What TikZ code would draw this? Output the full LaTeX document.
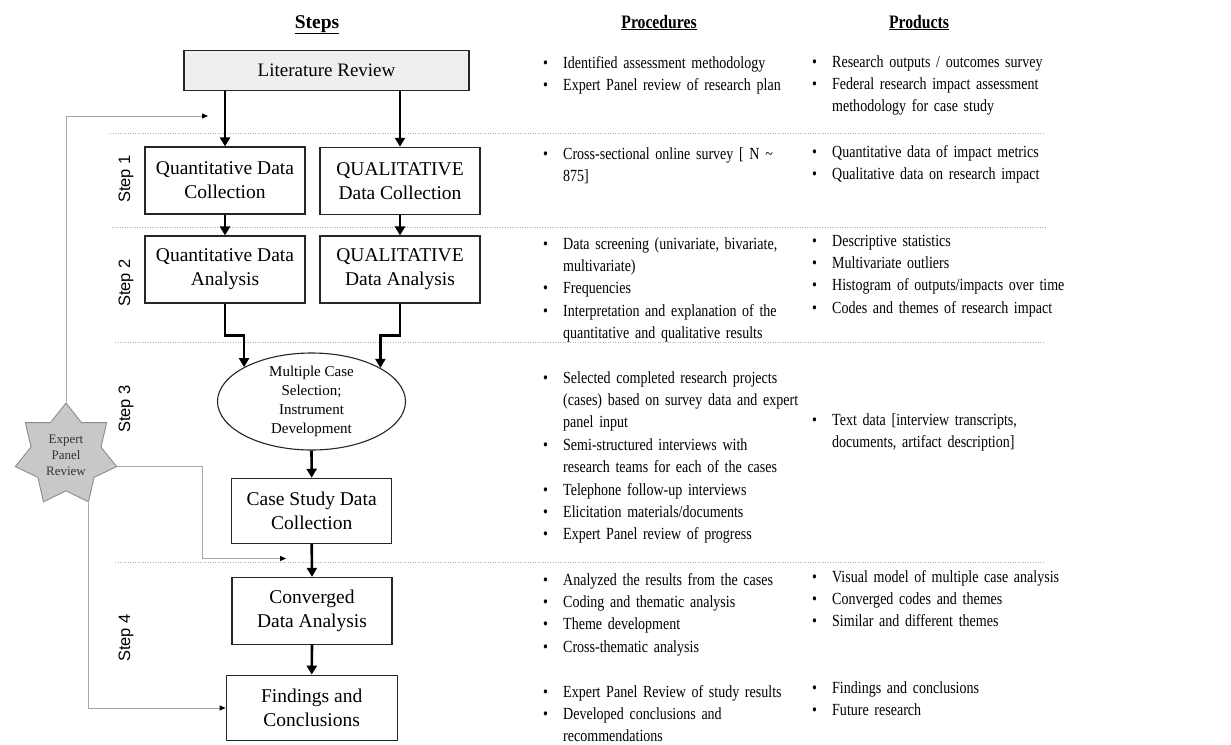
\documentclass[tikz,border=0pt]{standalone}
\usepackage{fontspec}
\setmainfont{Liberation Serif}
\newfontfamily\narrowfont{Liberation Serif}[FakeStretch=0.825]
\newfontfamily\stepfont{Liberation Sans}
\usetikzlibrary{arrows.meta,shapes.geometric,calc}
\newcommand\bi[1]{\hangindent=21pt\hangafter=1\noindent\makebox[21pt][l]{\hspace{1pt}•}#1\par}
\definecolor{boxgray}{HTML}{EFEFEF}
\definecolor{stargray}{HTML}{C8C8C8}
\tikzset{
  box/.style={draw=black!85, line width=1.1pt, align=center, inner sep=0pt,
    font=\rmfamily\fontsize{19.5}{24}\selectfont},
  thk/.style={line width=2.6pt, -{Triangle[length=9pt,width=10pt]}},
  fb/.style={draw=gray!70, line width=0.9pt, -{Triangle[length=6pt,width=5pt,color=black]}},
  sep/.style={draw=gray!60, line width=0.8pt, dash pattern=on 1pt off 1.5pt},
  steplab/.style={rotate=90, font=\stepfont\fontsize{16.5}{20}\selectfont},
  sect/.style={anchor=base west, inner sep=0pt, text width=#1,
    font=\narrowfont\fontsize{17}{22.4}\selectfont},
  sect/.default=265pt,
  hdr/.style={font=\narrowfont\bfseries\fontsize{19}{22}\selectfont, anchor=base}
}
\begin{document}
\begin{tikzpicture}[x=1pt,y=-1pt]
\useasboundingbox[fill=white] (0,0) rectangle (1231,744);

% headers
\node[anchor=base, font=\bfseries\fontsize{19.5}{22}\selectfont] (hsteps) at (317,28) {\underline{Steps}};
\node[hdr] (hproc) at (659,28) {\underline{Procedures}};
\node[hdr] (hprod) at (919,28) {\underline{Products}};

% separators
\draw[sep] (110,133.3) -- (1045,133.3);
\draw[sep] (112,227.5) -- (1045,227.5);
\draw[sep] (115,342.7) -- (1045,342.7);
\draw[sep] (115,562.5) -- (1045,562.5);

% step labels
\node[steplab] (s1) at (126,179) {Step 1};
\node[steplab] (s2) at (126,283) {Step 2};
\node[steplab] (s3) at (126,409) {Step 3};
\node[steplab] (s4) at (126,638) {Step 4};

% boxes
\node[box, fill=boxgray, minimum width=285pt, minimum height=39.5pt, font=\rmfamily\fontsize{19}{23}\selectfont] (lr) at (326.5,70.3) {Literature Review};
\node[box, minimum width=160pt, minimum height=67pt] (q1) at (225,180.5) {Quantitative Data\\Collection};
\node[box, minimum width=160pt, minimum height=67pt] (ql1) at (400,180.8) {QUALITATIVE\\Data Collection};
\node[box, minimum width=160pt, minimum height=67pt] (q2) at (225,269.5) {Quantitative Data\\Analysis};
\node[box, minimum width=160pt, minimum height=67pt] (ql2) at (400,269.5) {QUALITATIVE\\Data Analysis};
\node[ellipse, draw=black!85, line width=1.1pt, minimum width=188pt, minimum height=97pt,
  inner xsep=-8pt, inner ysep=-10pt, align=center, font=\fontsize{15}{19}\selectfont] (ell) at (311.5,401.5)
  {Multiple Case\\Selection;\\Instrument\\Development};
\node[box, minimum width=160pt, minimum height=65pt] (cs) at (311.7,510.8) {Case Study Data\\Collection};
\node[box, minimum width=160pt, minimum height=66.7pt] (conv) at (312,610.7) {Converged\\Data Analysis};
\node[box, minimum width=171pt, minimum height=65.7pt] (find) at (311.7,708) {Findings and\\Conclusions};

% star
\node[star, star points=7, star point ratio=1.45, minimum size=104pt, inner sep=0pt,
  fill=stargray, draw=gray!90, line width=0.9pt, align=center, text=black!80,
  font=\fontsize{13}{16}\selectfont] (star) at (66,455) {Expert\\Panel\\Review};

% thick arrows
\draw[thk] (lr.south -| q1.north) -- (q1.north);
\draw[thk] (lr.south -| ql1.north) -- (ql1.north);
\draw[thk] (q1.south) -- (q2.north);
\draw[thk] (ql1.south) -- (ql2.north);
\draw[thk] (q2.south) -- ++(0,32) -| (ell.153.3);
\draw[thk] (ql2.south) -- ++(0,32) -| (ell.26.7);
\draw[thk] (ell.south) -- (cs.north);
\draw[thk] (cs.south) -- (conv.north);
\draw[thk] (conv.south) -- (find.north);

% feedback lines
\coordinate (fb1) at (208,116);
\coordinate (fb2) at (286,558.5);
\draw[fb] (star.outer point 1) |- (fb1);
\draw[fb] (star.outer point 6) -| ([xshift=-84pt]fb2) -- (fb2);
\draw[fb] (star.outer point 5) |- (find.west);

% procedures
\node[sect] (p0) at (542,68) {\raggedright
\bi{Identified assessment methodology}
\bi{Expert Panel review of research plan}};
\node[sect] (p1) at (542,159) {\raggedright
\bi{Cross-sectional online survey [ N \textasciitilde\newline 875]}};
\node[sect] (p2) at (542,249) {\raggedright
\bi{Data screening (univariate, bivariate,\newline multivariate)}
\bi{Frequencies}
\bi{Interpretation and explanation of the\newline quantitative and qualitative results}};
\node[sect] (p3) at (542,383) {\raggedright
\bi{Selected completed research projects\newline (cases) based on survey data and expert\newline panel input}
\bi{Semi-structured interviews with\newline research teams for each of the cases}
\bi{Telephone follow-up interviews}
\bi{Elicitation materials/documents}
\bi{Expert Panel review of progress}};
\node[sect] (p4) at (542,585) {\raggedright
\bi{Analyzed the results from the cases}
\bi{Coding and thematic analysis}
\bi{Theme development}
\bi{Cross-thematic analysis}};
\node[sect] (p5) at (542,697) {\raggedright
\bi{Expert Panel Review of study results}
\bi{Developed conclusions and\newline recommendations}};

% products
\node[sect=260pt] (r0) at (811,67) {\raggedright
\bi{Research outputs / outcomes survey}
\bi{Federal research impact assessment\newline methodology for case study}};
\node[sect=260pt] (r1) at (811,157) {\raggedright
\bi{Quantitative data of impact metrics}
\bi{Qualitative data on research impact}};
\node[sect=260pt] (r2) at (811,246) {\raggedright
\bi{Descriptive statistics}
\bi{Multivariate outliers}
\bi{Histogram of outputs/impacts over time}
\bi{Codes and themes of research impact}};
\node[sect=260pt] (r3) at (811,425) {\raggedright
\bi{Text data [interview transcripts,\newline documents, artifact description]}};
\node[sect=260pt] (r4) at (811,582) {\raggedright
\bi{Visual model of multiple case analysis}
\bi{Converged codes and themes}
\bi{Similar and different themes}};
\node[sect=260pt] (r5) at (811,693) {\raggedright
\bi{Findings and conclusions}
\bi{Future research}};
\end{tikzpicture}
\end{document}
